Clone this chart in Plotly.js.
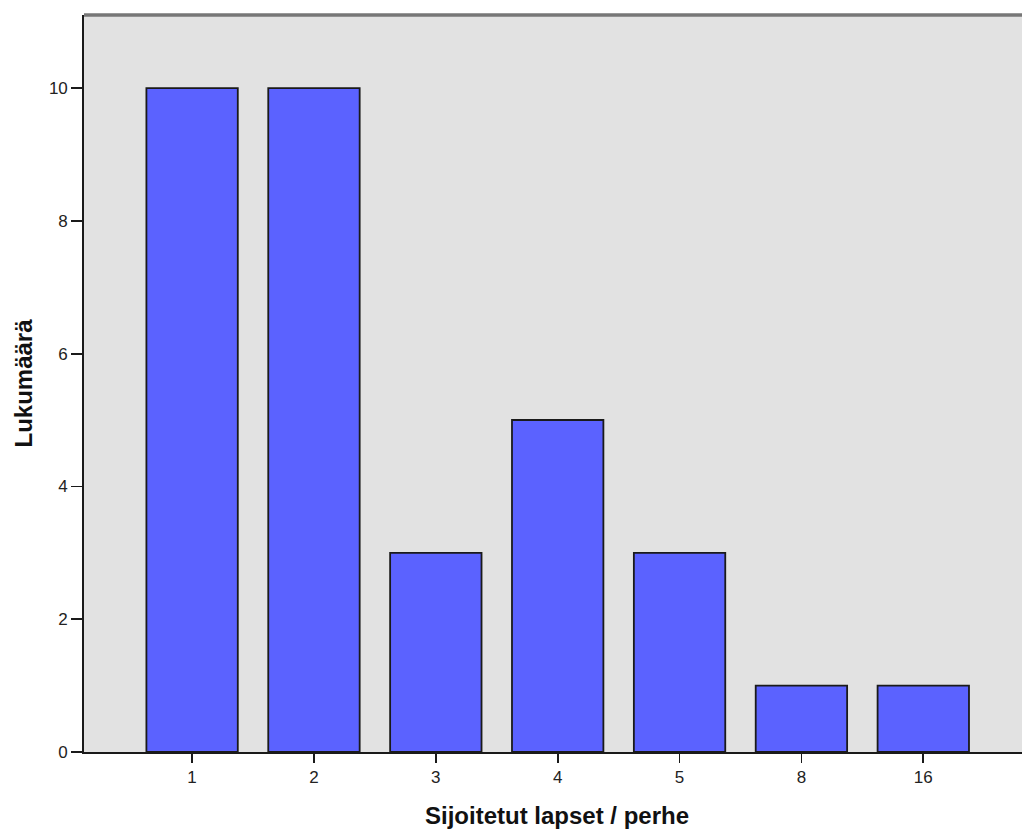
<!DOCTYPE html>
<html>
<head>
<meta charset="utf-8">
<script src="https://cdn.plot.ly/plotly-3.0.1.min.js"></script>
<style>html,body{margin:0;padding:0;overflow:hidden;background:#fff;}</style>
</head>
<body>
<div id="chart" style="width:1022px;height:830px;"></div>
<script>
const categories = ["1", "2", "3", "4", "5", "8", "16"];
const counts = [10, 10, 3, 5, 3, 1, 1];
const yTicks = [0, 2, 4, 6, 8, 10];
const xTitle = 'Sijoitetut lapset / perhe';
const yTitle = 'Lukumäärä';

const FONT = 'Liberation Sans, Arial, sans-serif';

const trace = {
  type: 'bar',
  x: categories,
  y: counts,
  width: 0.75,
  marker: {color: '#5b62ff', line: {color: '#1a1a1a', width: 1.8}},
  hoverinfo: 'x+y'
};

const layout = {
  width: 1022,
  height: 830,
  margin: {l: 84, r: 0, t: 15, b: 78},
  paper_bgcolor: '#ffffff',
  plot_bgcolor: '#e2e2e2',
  showlegend: false,
  font: {family: FONT, color: '#222'},
  xaxis: {
    type: 'category',
    range: [-0.887, 6.81],
    showgrid: false,
    zeroline: false,
    showline: true,
    linecolor: '#1a1a1a',
    linewidth: 1.8,
    ticks: 'outside',
    ticklen: 9,
    tickwidth: 1.8,
    tickcolor: '#1a1a1a',
    tickfont: {size: 17, color: '#222', family: FONT}
  },
  yaxis: {
    range: [0, 11.1],
    tickvals: yTicks,
    ticktext: yTicks.map(String),
    showgrid: false,
    zeroline: false,
    showline: true,
    linecolor: '#1a1a1a',
    linewidth: 1.8,
    ticks: 'outside',
    ticklen: 11,
    tickwidth: 1.8,
    tickcolor: '#1a1a1a',
    tickfont: {size: 17, color: '#222', family: FONT}
  },
  annotations: [
    {text: xTitle, xref: 'paper', yref: 'paper', x: 0.5, y: 0, xshift: 4, yshift: -63,
     xanchor: 'center', yanchor: 'middle', showarrow: false,
     font: {size: 24, color: '#111', family: FONT, weight: 'bold'}},
    {text: yTitle, xref: 'paper', yref: 'paper', x: 0, y: 0.5, xshift: -61,
     xanchor: 'center', yanchor: 'middle', textangle: -90, showarrow: false,
     font: {size: 24, color: '#111', family: FONT, weight: 'bold'}}
  ],
  shapes: [{
    type: 'line', xref: 'paper', yref: 'paper', x0: 0, x1: 1, y0: 1, y1: 1,
    line: {color: '#777777', width: 3.5}
  }]
};

Plotly.newPlot('chart', [trace], layout, {displayModeBar: false, staticPlot: true});
</script>
</body>
</html>
